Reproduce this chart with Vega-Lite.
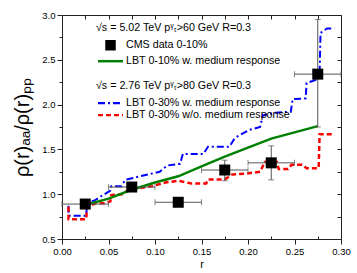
{
  "$schema": "https://vega.github.io/schema/vega-lite/v6.json",
  "width": 279,
  "height": 224,
  "autosize": {"type": "none"},
  "padding": {"left": 62, "top": 15, "right": 16, "bottom": 34},
  "config": {
    "view": {"stroke": "#222", "strokeWidth": 1},
    "font": "Liberation Sans",
    "axis": {"grid": false, "domainColor": "#222", "tickColor": "#222", "labelColor": "#000", "labelFont": "Liberation Sans", "labelFontSize": 9.5, "titleFont": "Liberation Sans", "titleFontWeight": "normal", "titleColor": "#000"},
    "legend": {"titleFont": "Liberation Sans", "titleFontWeight": "normal", "titleFontSize": 10.7, "titleColor": "#000", "titleBaseline": "top", "labelFont": "Liberation Sans", "labelFontSize": 10.7, "labelColor": "#000", "padding": 0, "titleLimit": 300, "labelLimit": 300}
  },
  "datasets": {
    "cms": [
      {"series": "CMS data 0-10%", "r": 0.025, "v": 0.89, "vlo": 0.86, "vhi": 0.92, "rlo": 0.0, "rhi": 0.05},
      {"series": "CMS data 0-10%", "r": 0.075, "v": 1.08, "vlo": 1.05, "vhi": 1.11, "rlo": 0.05, "rhi": 0.1},
      {"series": "CMS data 0-10%", "r": 0.125, "v": 0.91, "vlo": 0.89, "vhi": 0.93, "rlo": 0.1, "rhi": 0.15},
      {"series": "CMS data 0-10%", "r": 0.175, "v": 1.27, "vlo": 1.15, "vhi": 1.38, "rlo": 0.15, "rhi": 0.2},
      {"series": "CMS data 0-10%", "r": 0.225, "v": 1.35, "vlo": 1.16, "vhi": 1.54, "rlo": 0.2, "rhi": 0.25},
      {"series": "CMS data 0-10%", "r": 0.275, "v": 2.34, "vlo": 1.75, "vhi": 2.95, "rlo": 0.25, "rhi": 0.3}
    ],
    "green": [
      {"series": "LBT 0-10% w. medium response", "i": 0, "r": 0.025, "v": 0.88},
      {"series": "LBT 0-10% w. medium response", "i": 1, "r": 0.05, "v": 0.95},
      {"series": "LBT 0-10% w. medium response", "i": 2, "r": 0.075, "v": 1.05},
      {"series": "LBT 0-10% w. medium response", "i": 3, "r": 0.1, "v": 1.13},
      {"series": "LBT 0-10% w. medium response", "i": 4, "r": 0.125, "v": 1.2},
      {"series": "LBT 0-10% w. medium response", "i": 5, "r": 0.15, "v": 1.31},
      {"series": "LBT 0-10% w. medium response", "i": 6, "r": 0.175, "v": 1.42},
      {"series": "LBT 0-10% w. medium response", "i": 7, "r": 0.2, "v": 1.52},
      {"series": "LBT 0-10% w. medium response", "i": 8, "r": 0.225, "v": 1.62},
      {"series": "LBT 0-10% w. medium response", "i": 9, "r": 0.25, "v": 1.69},
      {"series": "LBT 0-10% w. medium response", "i": 10, "r": 0.275, "v": 1.76}
    ],
    "blue": [
      {"series": "LBT 0-30% w. medium response", "i": 0, "r": 0.007, "v": 0.87},
      {"series": "LBT 0-30% w. medium response", "i": 1, "r": 0.007, "v": 0.76},
      {"series": "LBT 0-30% w. medium response", "i": 2, "r": 0.026, "v": 0.76},
      {"series": "LBT 0-30% w. medium response", "i": 3, "r": 0.027, "v": 0.9},
      {"series": "LBT 0-30% w. medium response", "i": 4, "r": 0.035, "v": 0.93},
      {"series": "LBT 0-30% w. medium response", "i": 5, "r": 0.041, "v": 0.97},
      {"series": "LBT 0-30% w. medium response", "i": 6, "r": 0.052, "v": 1.04},
      {"series": "LBT 0-30% w. medium response", "i": 7, "r": 0.053, "v": 1.09},
      {"series": "LBT 0-30% w. medium response", "i": 8, "r": 0.064, "v": 1.09},
      {"series": "LBT 0-30% w. medium response", "i": 9, "r": 0.068, "v": 1.16},
      {"series": "LBT 0-30% w. medium response", "i": 10, "r": 0.084, "v": 1.2},
      {"series": "LBT 0-30% w. medium response", "i": 11, "r": 0.105, "v": 1.25},
      {"series": "LBT 0-30% w. medium response", "i": 12, "r": 0.113, "v": 1.32},
      {"series": "LBT 0-30% w. medium response", "i": 13, "r": 0.127, "v": 1.34},
      {"series": "LBT 0-30% w. medium response", "i": 14, "r": 0.13, "v": 1.45},
      {"series": "LBT 0-30% w. medium response", "i": 15, "r": 0.152, "v": 1.45},
      {"series": "LBT 0-30% w. medium response", "i": 16, "r": 0.157, "v": 1.53},
      {"series": "LBT 0-30% w. medium response", "i": 17, "r": 0.18, "v": 1.53},
      {"series": "LBT 0-30% w. medium response", "i": 18, "r": 0.186, "v": 1.63},
      {"series": "LBT 0-30% w. medium response", "i": 19, "r": 0.202, "v": 1.72},
      {"series": "LBT 0-30% w. medium response", "i": 20, "r": 0.213, "v": 1.75},
      {"series": "LBT 0-30% w. medium response", "i": 21, "r": 0.216, "v": 1.88},
      {"series": "LBT 0-30% w. medium response", "i": 22, "r": 0.23, "v": 1.91},
      {"series": "LBT 0-30% w. medium response", "i": 23, "r": 0.246, "v": 1.92},
      {"series": "LBT 0-30% w. medium response", "i": 24, "r": 0.248, "v": 2.06},
      {"series": "LBT 0-30% w. medium response", "i": 25, "r": 0.262, "v": 2.07},
      {"series": "LBT 0-30% w. medium response", "i": 26, "r": 0.263, "v": 2.24},
      {"series": "LBT 0-30% w. medium response", "i": 27, "r": 0.274, "v": 2.28},
      {"series": "LBT 0-30% w. medium response", "i": 28, "r": 0.277, "v": 2.35},
      {"series": "LBT 0-30% w. medium response", "i": 29, "r": 0.278, "v": 2.8},
      {"series": "LBT 0-30% w. medium response", "i": 30, "r": 0.285, "v": 2.85},
      {"series": "LBT 0-30% w. medium response", "i": 31, "r": 0.293, "v": 2.85}
    ],
    "red": [
      {"series": "LBT 0-30% w/o. medium response", "i": 0, "r": 0.007, "v": 0.86},
      {"series": "LBT 0-30% w/o. medium response", "i": 1, "r": 0.007, "v": 0.72},
      {"series": "LBT 0-30% w/o. medium response", "i": 2, "r": 0.026, "v": 0.72},
      {"series": "LBT 0-30% w/o. medium response", "i": 3, "r": 0.027, "v": 0.86},
      {"series": "LBT 0-30% w/o. medium response", "i": 4, "r": 0.037, "v": 0.9},
      {"series": "LBT 0-30% w/o. medium response", "i": 5, "r": 0.046, "v": 0.9},
      {"series": "LBT 0-30% w/o. medium response", "i": 6, "r": 0.052, "v": 0.92},
      {"series": "LBT 0-30% w/o. medium response", "i": 7, "r": 0.053, "v": 0.99},
      {"series": "LBT 0-30% w/o. medium response", "i": 8, "r": 0.066, "v": 1.0},
      {"series": "LBT 0-30% w/o. medium response", "i": 9, "r": 0.07, "v": 1.04},
      {"series": "LBT 0-30% w/o. medium response", "i": 10, "r": 0.084, "v": 1.07},
      {"series": "LBT 0-30% w/o. medium response", "i": 11, "r": 0.097, "v": 1.09},
      {"series": "LBT 0-30% w/o. medium response", "i": 12, "r": 0.111, "v": 1.13},
      {"series": "LBT 0-30% w/o. medium response", "i": 13, "r": 0.125, "v": 1.15},
      {"series": "LBT 0-30% w/o. medium response", "i": 14, "r": 0.139, "v": 1.12},
      {"series": "LBT 0-30% w/o. medium response", "i": 15, "r": 0.155, "v": 1.12},
      {"series": "LBT 0-30% w/o. medium response", "i": 16, "r": 0.157, "v": 1.165},
      {"series": "LBT 0-30% w/o. medium response", "i": 17, "r": 0.175, "v": 1.165},
      {"series": "LBT 0-30% w/o. medium response", "i": 18, "r": 0.183, "v": 1.22},
      {"series": "LBT 0-30% w/o. medium response", "i": 19, "r": 0.198, "v": 1.23},
      {"series": "LBT 0-30% w/o. medium response", "i": 20, "r": 0.213, "v": 1.25},
      {"series": "LBT 0-30% w/o. medium response", "i": 21, "r": 0.218, "v": 1.36},
      {"series": "LBT 0-30% w/o. medium response", "i": 22, "r": 0.231, "v": 1.36},
      {"series": "LBT 0-30% w/o. medium response", "i": 23, "r": 0.233, "v": 1.28},
      {"series": "LBT 0-30% w/o. medium response", "i": 24, "r": 0.243, "v": 1.28},
      {"series": "LBT 0-30% w/o. medium response", "i": 25, "r": 0.247, "v": 1.33},
      {"series": "LBT 0-30% w/o. medium response", "i": 26, "r": 0.258, "v": 1.33},
      {"series": "LBT 0-30% w/o. medium response", "i": 27, "r": 0.263, "v": 1.29},
      {"series": "LBT 0-30% w/o. medium response", "i": 28, "r": 0.276, "v": 1.29},
      {"series": "LBT 0-30% w/o. medium response", "i": 29, "r": 0.277, "v": 1.67},
      {"series": "LBT 0-30% w/o. medium response", "i": 30, "r": 0.29, "v": 1.67}
    ]
  },
  "layer": [
    {
      "data": {"name": "blue"},
      "mark": {"type": "line", "strokeWidth": 2, "strokeDash": [7, 3, 2, 3]},
      "encoding": {
        "x": {"field": "r", "type": "quantitative", "scale": {"domain": [0, 0.3], "nice": false, "zero": false},
          "axis": {"orient": "bottom", "title": "r", "titleFontSize": 11, "titlePadding": 3,
            "values": [0, 0.025, 0.05, 0.075, 0.1, 0.125, 0.15, 0.175, 0.2, 0.225, 0.25, 0.275, 0.3],
            "labelExpr": "round(datum.value*1000) % 50 === 0 ? format(datum.value, '.2f') : ''",
            "tickSize": {"condition": {"test": "round(datum.value*1000) % 50 === 0", "value": 5}, "value": -3},
            "labelPadding": 2, "labelFlush": false}},
        "y": {"field": "v", "type": "quantitative", "scale": {"domain": [0.5, 3.0], "nice": false, "zero": false},
          "axis": {"orient": "left", "title": "ρ(r)ₐₐ/ρ(r)ₚₚ", "titleFontSize": 20,
            "values": [0.5, 0.75, 1.0, 1.25, 1.5, 1.75, 2.0, 2.25, 2.5, 2.75, 3.0],
            "labelExpr": "datum.value % 0.5 === 0 ? format(datum.value, '.1f') : ''",
            "tickSize": {"condition": {"test": "datum.value % 0.5 === 0", "value": 5}, "value": 3},
            "labelPadding": 2, "titlePadding": 9}},
        "order": {"field": "i", "type": "quantitative"},
        "stroke": {"field": "series", "type": "nominal",
          "scale": {"domain": ["LBT 0-30% w. medium response", "LBT 0-30% w/o. medium response"], "range": ["#0000ff", "#ff0000"]},
          "legend": {"title": "√s = 2.76 TeV pᵞₜ>80 GeV R=0.3", "orient": "none", "legendX": 34, "legendY": 66, "symbolSize": 100, "symbolStrokeWidth": 2.2, "labelOffset": 9, "rowPadding": 0, "titleBaseline": "top",
            "encode": {
              "title": {"update": {"dx": {"value": -8}}},
              "symbols": {"update": {
                "shape": {"value": "M-2.5,0H2.5"},
                "size": {"value": 100},
                "strokeWidth": {"value": 2.2},
                "strokeDash": {"signal": "datum.value === 'LBT 0-30% w. medium response' ? [7,3,2,3] : [5,3]"}}}}}}
      }
    },
    {
      "data": {"name": "red"},
      "mark": {"type": "line", "strokeWidth": 2.5, "strokeDash": [5, 3]},
      "encoding": {
        "x": {"field": "r", "type": "quantitative", "axis": null},
        "y": {"field": "v", "type": "quantitative", "axis": null},
        "order": {"field": "i", "type": "quantitative"},
        "stroke": {"field": "series", "type": "nominal"}
      }
    },
    {
      "data": {"name": "green"},
      "mark": {"type": "line", "strokeWidth": 2.5},
      "encoding": {
        "x": {"field": "r", "type": "quantitative", "axis": null},
        "y": {"field": "v", "type": "quantitative", "axis": null},
        "order": {"field": "i", "type": "quantitative"},
        "color": {"field": "series", "type": "nominal",
          "scale": {"domain": ["CMS data 0-10%", "LBT 0-10% w. medium response"], "range": ["#000000", "#008000"]},
          "legend": {"title": "√s = 5.02 TeV pᵞₜ>60 GeV R=0.3", "orient": "none", "legendX": 34, "legendY": 8, "symbolSize": 100, "symbolStrokeWidth": 2.5, "labelOffset": 9, "rowPadding": 0, "titleBaseline": "top",
            "encode": {
              "title": {"update": {"dx": {"value": -8}, "baseline": {"value": "top"}}},
              "symbols": {"update": {
              "shape": {"signal": "datum.value === 'CMS data 0-10%' ? 'M-0.8,-0.8H0.8V0.8H-0.8Z' : 'M-2.5,0H2.5'"},
              "size": {"value": 100},
              "strokeWidth": {"value": 2.5},
              "fill": {"signal": "datum.value === 'CMS data 0-10%' ? '#000000' : 'transparent'"},
              "stroke": {"signal": "datum.value === 'CMS data 0-10%' ? '#000000' : '#008000'"},
              "opacity": {"value": 1}}}}}}
      }
    },
    {
      "data": {"name": "cms"},
      "mark": {"type": "errorbar", "ticks": {"size": 6, "color": "#555"}, "rule": {"color": "#555"}, "color": "#555"},
      "encoding": {
        "x": {"field": "rlo", "type": "quantitative", "axis": null},
        "x2": {"field": "rhi"},
        "y": {"field": "v", "type": "quantitative", "axis": null}
      }
    },
    {
      "data": {"name": "cms"},
      "mark": {"type": "errorbar", "ticks": {"size": 6, "color": "#555"}, "rule": {"color": "#555"}, "color": "#555"},
      "encoding": {
        "x": {"field": "r", "type": "quantitative", "axis": null},
        "y": {"field": "vlo", "type": "quantitative", "axis": null},
        "y2": {"field": "vhi"}
      }
    },
    {
      "data": {"name": "cms"},
      "mark": {"type": "point", "shape": "square", "filled": true, "size": 121, "opacity": 1},
      "encoding": {
        "x": {"field": "r", "type": "quantitative",
          "axis": {"orient": "top", "title": null, "labels": false, "domain": false, "tickSize": -4,
            "values": [0, 0.025, 0.05, 0.075, 0.1, 0.125, 0.15, 0.175, 0.2, 0.225, 0.25, 0.275, 0.3]}},
        "y": {"field": "v", "type": "quantitative",
          "axis": {"orient": "right", "title": null, "labels": false, "domain": false, "tickSize": -4,
            "values": [0.5, 0.75, 1.0, 1.25, 1.5, 1.75, 2.0, 2.25, 2.5, 2.75, 3.0]}},
        "color": {"field": "series", "type": "nominal"}
      }
    }
  ],
  "resolve": {"axis": {"x": "independent", "y": "independent"}}
}
